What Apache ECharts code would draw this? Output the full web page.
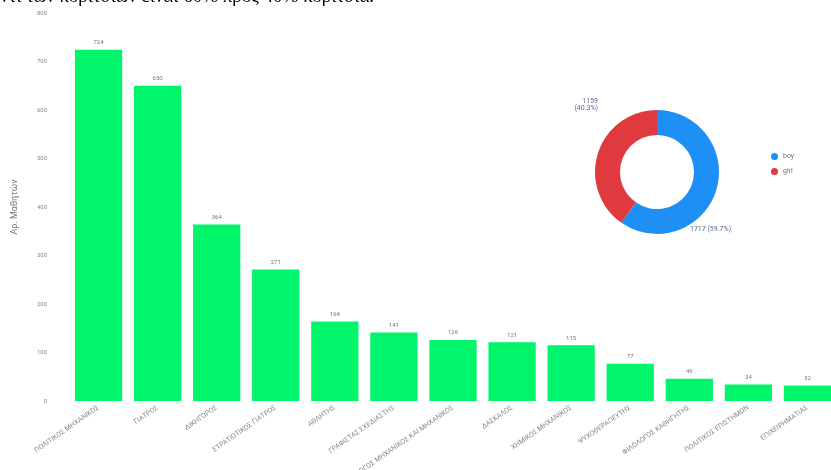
<!DOCTYPE html>
<html><head><meta charset="utf-8">
<script src="https://cdn.jsdelivr.net/npm/echarts@6/dist/echarts.min.js"></script>
<style>html,body{margin:0;padding:0;background:#fff}#c{width:831px;height:470px}</style>
</head><body><div id="c"></div>
<script>
const categories = ["ΠΟΛΙΤΙΚΟΣ ΜΗΧΑΝΙΚΟΣ","ΓΙΑΤΡΟΣ","ΔΙΚΗΓΟΡΟΣ","ΣΤΡΑΤΙΩΤΙΚΟΣ ΓΙΑΤΡΟΣ","ΑΘΛΗΤΗΣ","ΓΡΑΦΙΣΤΑΣ ΣΧΕΔΙΑΣΤΗΣ","ΗΛΕΚΤΡΟΛΟΓΟΣ ΜΗΧΑΝΙΚΟΣ ΚΑΙ ΜΗΧΑΝΙΚΟΣ","ΔΑΣΚΑΛΟΣ","ΧΗΜΙΚΟΣ ΜΗΧΑΝΙΚΟΣ","ΨΥΧΟΘΕΡΑΠΕΥΤΗΣ","ΦΙΛΟΛΟΓΟΣ ΚΑΘΗΓΗΤΗΣ","ΠΟΛΙΤΙΚΟΣ ΕΠΙΣΤΗΜΩΝ","ΕΠΙΧΕΙΡΗΜΑΤΙΑΣ"];
const studentCounts = [724,650,364,271,164,141,126,121,115,77,46,34,32];
const genderNames = ["boy","girl"];
const genderCounts = [1717,1159];
const yTicks = [0,100,200,300,400,500,600,700,800];

const chart = echarts.init(document.getElementById('c'));
chart.setOption({
  backgroundColor:'#fff',
  animation:false,
  graphic:[{type:'text',left:0,top:-12,style:{text:'ντι των κοριτσιών είναι 60% προς 40% κορίτσια.',font:'19px "Liberation Serif"',fill:'#000'}}],
  grid:{left:69,top:13,width:768,bottom:69,containLabel:false,outerBoundsMode:'none'},
  xAxis:{type:'category',data:categories,axisLine:{show:false},axisTick:{show:false},
    axisLabel:{interval:0,rotate:35,fontSize:7,color:'#888',margin:6,fontFamily:'Roboto'}},
  yAxis:{type:'value',min:yTicks[0],max:yTicks[yTicks.length-1],interval:100,
    name:'Αρ. Μαθητών',nameLocation:'middle',nameGap:50,nameTextStyle:{fontSize:9,color:'#777',fontFamily:'Roboto'},
    axisLine:{show:false},axisTick:{show:false},splitLine:{show:false},
    axisLabel:{fontSize:6,color:'#888',margin:22,fontFamily:'Roboto'}},
  legend:{data:genderNames,orient:'vertical',left:766,top:148,itemWidth:7,itemHeight:7,itemGap:8,icon:'circle',
    textStyle:{fontSize:7,color:'#777',fontFamily:'Roboto'}},
  series:[
    {type:'bar',data:studentCounts,barCategoryGap:'20%',itemStyle:{color:'#00f56a'},
     label:{show:true,position:'top',fontSize:6,color:'#777',distance:4,fontFamily:'Roboto'}},
    {type:'pie',center:[657,172],radius:[37,62],startAngle:90,
     data:genderNames.map((n,i)=>({name:n,value:genderCounts[i]})),
     color:['#1e8ff5','#e0393e'],
     label:{show:true,fontSize:7,color:'#5a6a8a',fontFamily:'Roboto',
       formatter:p=>p.name==='girl'?p.value+'\n('+p.percent.toFixed(1)+'%)':p.value+' ('+p.percent.toFixed(1)+'%)'},
     labelLayout:function(p){
       if(p.dataIndex===1){return {x:598,y:105,align:'right',verticalAlign:'middle'};}
       return {x:690,y:229,align:'left',verticalAlign:'middle'};
     },
     labelLine:{show:false}}
  ]
});
</script></body></html>
